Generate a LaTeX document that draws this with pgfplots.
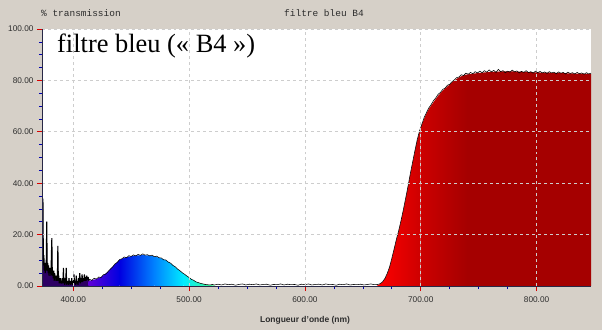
\documentclass[border=0pt]{standalone}
\usepackage{fontspec}
\setmainfont{Liberation Sans}
\newfontfamily\serifx{Liberation Serif}
\newfontfamily\monox{Liberation Mono}
\usepackage{pgfplots}
\pgfplotsset{compat=1.18}
\definecolor{bg}{RGB}{214,208,200}
\definecolor{gridc}{RGB}{205,205,205}
\definecolor{axc}{RGB}{40,40,70}
\definecolor{txtc}{RGB}{45,45,45}
\definecolor{vio}{RGB}{95,0,215}
\definecolor{bl1}{RGB}{0,0,225}
\definecolor{bl2}{RGB}{0,130,255}
\definecolor{cy}{RGB}{0,235,255}
\definecolor{gr}{RGB}{70,255,140}
\definecolor{rd1}{RGB}{255,0,0}
\definecolor{rd2}{RGB}{205,0,0}
\definecolor{rd3}{RGB}{165,0,0}
\definecolor{noisef}{RGB}{45,0,100}
\begin{document}
\begin{tikzpicture}
\fill[bg] (-42bp,-44bp) rectangle (560bp,286bp);
\useasboundingbox (-42bp,-44bp) rectangle (560bp,286bp);
\begin{axis}[
  at={(0,0)}, anchor=south west, scale only axis,
  width=549bp, height=257bp,
  xmin=373, xmax=847, ymin=0, ymax=100,
  xtick={400,500,600,700,800}, ytick={0,20,40,60,80,100},
  minor x tick num=3, minor y tick num=3,
  axis x line=bottom, axis y line=left,
  axis line style={-, axc, line width=0.6pt},
  axis background/.style={fill=white},
  grid=major, grid style={dashed, gridc, line width=0.6pt},
  axis on top,
  tick align=outside,
  major tick length=5bp, minor tick length=3bp,
  major tick style={red!85!black, line width=0.6pt},
  minor tick style={blue!70!black, line width=0.6pt},
  /pgf/number format/assume math mode=true,
  /pgf/number format/.cd, fixed, fixed zerofill, precision=2, 1000 sep={},
  /pgfplots/.cd,
  tick label style={font=\fontsize{8.3}{9}\selectfont, text=txtc},
  xticklabel style={yshift=-2bp},
]
% noise region fill
\addplot[draw=none, fill=noisef] coordinates {
(373,0)(373.4,10)(373.8,34)(374.2,8)(374.6,12)(375,6)(375.4,9)(375.8,5)(376.2,8)(376.6,6)(377.1,25)(377.5,6)(377.9,9)(378.3,5)(378.7,8)(379.1,4)(379.5,7)(379.9,5)(380.3,7)(380.7,4)(381.5,18.6)(381.9,4)(382.3,6)(382.7,3)(383.1,6)(383.5,2)(383.9,5)(384.3,3)(384.7,4)(385.1,2)(385.5,4)(385.9,2)(386.3,3)(386.7,15.6)(387.1,2)(387.5,4)(387.9,1)(388.3,3)(388.7,1)(389.1,3)(389.5,1)(389.9,2)(390.3,1)(390.7,3)(391.1,1)(391.5,7)(391.9,1)(392.3,2)(392.7,0.5)(393.1,3)(393.5,1)(393.9,7)(394.3,0.5)(394.7,2)(395.1,1)(395.5,2)(395.9,0.5)(396.3,3)(396.7,1)(397.1,2)(397.5,0.5)(397.9,2)(398.3,1)(398.7,3)(399.1,0.5)(399.6,2)(400.1,1)(400.6,4.5)(401.1,1)(401.6,2)(402.1,0.5)(402.6,4)(403.1,1)(403.6,2)(404.1,0.5)(404.6,3)(405.1,1.5)(405.6,5)(406.1,1)(406.6,3)(407.1,1.5)(407.6,4.5)(408.1,1.5)(408.6,3)(409.1,2)(409.6,4.5)(410.1,2)(410.6,3.5)(411.1,2)(411.6,4)(412.2,2.5)(412.8,3.5)(413.4,2.2)(414,2.6)
} \closedcycle;
% blue hump fills
\addplot[draw=none, left color=vio, right color=bl1] coordinates {
(413,1.8)(415,2.2)(420,2.7)(425,3.8)(430,5.6)(435,8)(440,10.2)} \closedcycle;
\addplot[draw=none, left color=bl1, right color=bl2] coordinates {
(440,10.2)(445,11.1)(450,11.6)(455,11.9)(460,12)(465,11.9)(470,11.5)} \closedcycle;
\addplot[draw=none, left color=bl2, right color=cy] coordinates {
(470,11.5)(475,10.9)(480,10)(485,8.5)(490,6.6)(495,4.8)} \closedcycle;
\addplot[draw=none, left color=cy, right color=gr] coordinates {
(495,4.8)(500,3.2)(505,1.9)(510,1.0)(515,0.5)(522,0.2)} \closedcycle;
% red fills
\addplot[draw=none, left color=rd1, right color=rd2] coordinates {
(662,0)(663,0.3)(665,0.8)(667,1.5)(669,2.8)(671,4.6)(673,7.2)(675,10.5)(677,14.3)(679,18)(681,21.5)(683,25.3)(685,29.5)(687,34)(689,38.6)(691,43.5)(693,48)(695,52.5)(697,56.8)(699,60.2)(700,61.5)} \closedcycle;
\addplot[draw=none, left color=rd2, right color=rd3] coordinates {
(700,61.5)(701,62.8)(703,65.2)(705,67.2)(707,68.9)(709,70.2)(711,71.5)(713,72.8)(715,74)(717,75)(719,76)(721,76.8)(724,78)(728,79.6)(732,80.9)(736,81.8)(740,82.3)} \closedcycle;
\addplot[draw=none, fill=rd3] coordinates {
(740,82.3)(750,82.9)(760,83.3)(770,83.5)(780,83.5)(790,83.3)(800,83.1)(810,83)(820,82.9)(830,82.7)(840,82.6)(847,82.5)} \closedcycle;
% black measured curve: noisy start (drawn bolder)
\addplot[black, line width=1.1pt, line join=miter, miter limit=2] coordinates {
(373,0)(373.4,10)(373.8,34)(374.2,8)(374.6,12)(375,6)(375.4,9)(375.8,5)(376.2,8)(376.6,6)(377.1,25)(377.5,6)(377.9,9)(378.3,5)(378.7,8)(379.1,4)(379.5,7)(379.9,5)(380.3,7)(380.7,4)(381.5,18.6)(381.9,4)(382.3,6)(382.7,3)(383.1,6)(383.5,2)(383.9,5)(384.3,3)(384.7,4)(385.1,2)(385.5,4)(385.9,2)(386.3,3)(386.7,15.6)(387.1,2)(387.5,4)(387.9,1)(388.3,3)(388.7,1)(389.1,3)(389.5,1)(389.9,2)(390.3,1)(390.7,3)(391.1,1)(391.5,7)(391.9,1)(392.3,2)(392.7,0.5)(393.1,3)(393.5,1)(393.9,7)(394.3,0.5)(394.7,2)(395.1,1)(395.5,2)(395.9,0.5)(396.3,3)(396.7,1)(397.1,2)(397.5,0.5)(397.9,2)(398.3,1)(398.7,3)(399.1,0.5)(399.6,2)(400.1,1)(400.6,4.5)(401.1,1)(401.6,2)(402.1,0.5)(402.6,4)(403.1,1)(403.6,2)(404.1,0.5)(404.6,3)(405.1,1.5)(405.6,5)(406.1,1)(406.6,3)(407.1,1.5)(407.6,4.5)(408.1,1.5)(408.6,3)(409.1,2)(409.6,4.5)(410.1,2)(410.6,3.5)(411.1,2)(411.6,4)(412.2,2.5)(412.8,3.5)(413.4,2.2)(414,2.6)
};
% black measured curve: rest
\addplot[black, line width=0.55pt] coordinates {
(414,2.6)(416,2.2)(418,3.0)(420,2.7)(422,3.5)(424,3.3)(426,4.4)(428,4.6)(430,5.6)(432,6.6)(434,7.4)(436,8.6)(438,9.2)(440,10.3)(442,10.6)(444,11.3)(446,11.0)(448,11.8)(450,11.5)(452,12.1)(454,11.7)(456,12.3)(458,11.9)(460,12.5)(462,12.0)(464,12.2)(466,11.7)(468,12.0)(470,11.4)(472,11.6)(474,11.0)(476,10.9)(478,10.2)(480,10.1)(482,9.3)(484,8.9)(486,8.0)(488,7.5)(490,6.6)(492,6.0)(494,5.2)(496,4.6)(498,3.9)(500,3.3)(502,2.6)(504,2.2)(506,1.6)(508,1.3)(510,1.0)(512,0.8)(514,0.6)(516,0.5)(518,0.4)(520,0.6)
(522,0.4)(525,0.7)(528,0.4)(531,0.8)(534,0.5)(537,0.7)(540,0.3)(543,0.6)(546,0.8)(549,0.4)(552,0.7)(555,0.5)(558,0.8)(561,0.4)(564,0.6)(567,0.7)(570,0.3)(573,0.6)(576,0.5)(579,0.8)(582,0.4)(585,0.7)(588,0.5)(591,0.6)(594,0.3)(597,0.7)(600,0.5)(603,0.8)(606,0.4)(609,0.6)(612,0.7)(615,0.4)(618,0.8)(621,0.5)(624,0.6)(627,0.3)(630,0.7)(633,0.5)(636,0.8)(639,0.4)(642,0.6)(645,0.5)(648,0.7)(651,0.4)(654,0.6)(657,0.8)(660,0.5)(663,0.6)(665,0.9)
(667,1.6)(669,2.9)(671,4.8)(673,7.3)(675,10.7)(677,14.4)(679,18.2)(681,21.6)(683,25.5)(685,29.7)(687,34.2)(689,38.8)(691,43.7)(693,48.2)(695,52.7)(697,57.0)(699,60.4)(701,63.0)(703,65.6)(705,67.5)(707,69.3)(709,70.6)(711,72.1)(713,73.2)(715,74.6)(717,75.3)(719,76.5)(721,77.0)(723,78.1)(725,78.5)(727,79.5)(729,80.2)(731,81.1)(733,81.3)(735,82.2)(737,81.9)(739,82.8)(741,82.4)(743,83.1)(745,82.6)(747,83.4)(749,82.9)(751,83.6)(753,83.0)(755,83.8)(757,83.2)(759,84.1)(761,83.3)(763,83.9)(765,83.1)(767,84.3)(769,83.4)(771,83.8)(773,83.0)(775,83.6)(777,83.2)(779,84.0)(781,83.3)(783,83.7)(785,82.9)(787,83.5)(789,83.1)(791,83.8)(793,83.0)(795,83.4)(797,82.8)(799,83.6)(801,83.0)(803,83.5)(805,82.9)(807,83.3)(809,82.7)(811,83.4)(813,82.9)(815,83.2)(817,82.6)(819,83.3)(821,82.8)(823,83.1)(825,82.5)(827,83.2)(829,82.7)(831,83.0)(833,82.5)(835,83.1)(837,82.6)(839,82.9)(841,82.4)(843,83.0)(845,82.5)(847,82.8)
};
\end{axis}
\node[anchor=base west, inner sep=0pt, font=\serifx\fontsize{26.5}{30}\selectfont] at (15bp,233bp) {filtre bleu (« B4 »)};
\node[anchor=west, inner sep=0pt, text=txtc, font=\monox\fontsize{9.5}{11}\selectfont] at (-1bp,273bp) {\% transmission};
\node[anchor=center, inner sep=0pt, text=txtc, font=\monox\fontsize{9.5}{11}\selectfont] at (282bp,273bp) {filtre bleu B4};
\node[anchor=center, inner sep=0pt, text=txtc, font=\bfseries\fontsize{8.5}{10}\selectfont] at (263bp,-34bp) {Longueur d'onde (nm)};
\end{tikzpicture}
\end{document}
